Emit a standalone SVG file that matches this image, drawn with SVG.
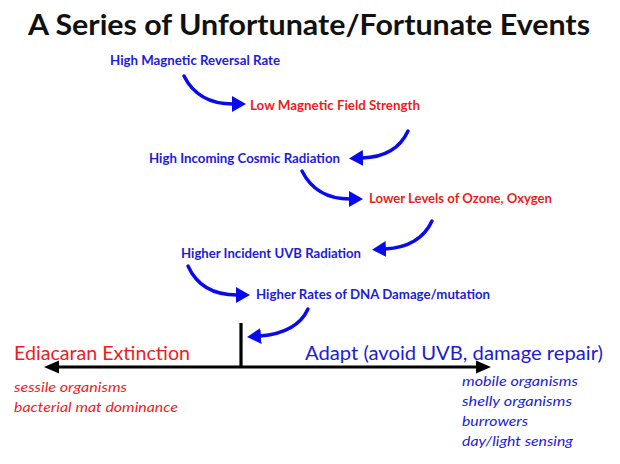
<svg xmlns="http://www.w3.org/2000/svg" width="620" height="464" viewBox="0 0 620 464">
<style>
text{font-family:Lato,"Open Sans","Liberation Sans",sans-serif}
.title{font-size:29px;font-weight:bold;fill:#111}
.lbl{font-size:12.8px;font-weight:bold}
.blue{fill:#1c1cd8}
.red{fill:#ee1c1c}
.big{font-size:18.5px}
.it{font-size:14.3px;font-style:italic}
.conn{fill:none;stroke:#0a0af0;stroke-width:3.5;stroke-linecap:round}
.axis{stroke:#000;stroke-width:3.2;fill:none}
</style>
<defs>
<marker id="ah" markerUnits="userSpaceOnUse" markerWidth="16" markerHeight="18" refX="1" refY="9" orient="auto">
<path d="M0,1 L14,9 L0,17 Z" fill="#0a0af0"/>
</marker>
<marker id="bh" markerUnits="userSpaceOnUse" markerWidth="16" markerHeight="16" refX="1" refY="8" orient="auto">
<path d="M0,1.5 L15,8 L0,14.5 Z" fill="#000"/>
</marker>
</defs>
<rect width="620" height="464" fill="#fff"/>
<g id="title"><text class="title" x="28" y="35" textLength="562" lengthAdjust="spacingAndGlyphs">A Series of Unfortunate/Fortunate Events</text></g>
<g id="n1"><text class="lbl blue" x="110" y="65" textLength="170" lengthAdjust="spacingAndGlyphs">High Magnetic Reversal Rate</text></g>
<g id="n2"><text class="lbl red" x="250" y="110" textLength="170" lengthAdjust="spacingAndGlyphs">Low Magnetic Field Strength</text></g>
<g id="n3"><text class="lbl blue" x="149" y="163" textLength="191" lengthAdjust="spacingAndGlyphs">High Incoming Cosmic Radiation</text></g>
<g id="n4"><text class="lbl red" x="369" y="203" textLength="183" lengthAdjust="spacingAndGlyphs">Lower Levels of Ozone, Oxygen</text></g>
<g id="n5"><text class="lbl blue" x="181" y="258" textLength="180" lengthAdjust="spacingAndGlyphs">Higher Incident UVB Radiation</text></g>
<g id="n6"><text class="lbl blue" x="256" y="299" textLength="234" lengthAdjust="spacingAndGlyphs">Higher Rates of DNA Damage/mutation</text></g>
<g id="extinction">
<text class="big red" x="14" y="360" textLength="176" lengthAdjust="spacingAndGlyphs">Ediacaran Extinction</text>
<text class="it red" x="14" y="392" textLength="113" lengthAdjust="spacingAndGlyphs">sessile organisms</text>
<text class="it red" x="14" y="412" textLength="164" lengthAdjust="spacingAndGlyphs">bacterial mat dominance</text>
</g>
<g id="adapt">
<text class="big blue" x="305" y="360" textLength="298" lengthAdjust="spacingAndGlyphs">Adapt (avoid UVB, damage repair)</text>
<text class="it blue" x="462" y="386" textLength="116" lengthAdjust="spacingAndGlyphs">mobile organisms</text>
<text class="it blue" x="462" y="406" textLength="110" lengthAdjust="spacingAndGlyphs">shelly organisms</text>
<text class="it blue" x="462" y="426" textLength="66" lengthAdjust="spacingAndGlyphs">burrowers</text>
<text class="it blue" x="462" y="446" textLength="111" lengthAdjust="spacingAndGlyphs">day/light sensing</text>
</g>
<g id="connectors">
<path class="conn" d="M184,76 Q198,104 233,104" marker-end="url(#ah)"/>
<path class="conn" d="M408,131 Q396,157 362,158" marker-end="url(#ah)"/>
<path class="conn" d="M302,171 Q316,199 350,199" marker-end="url(#ah)"/>
<path class="conn" d="M432,221 Q420,247 385,249" marker-end="url(#ah)"/>
<path class="conn" d="M188,266 Q201,295 237,295" marker-end="url(#ah)"/>
<path class="conn" d="M308,309 Q297,333 260,336" marker-end="url(#ah)"/>
<line class="axis" x1="241" y1="323" x2="241" y2="367"/>
<line class="axis" x1="150" y1="367" x2="58" y2="367" marker-end="url(#bh)"/>
<line class="axis" x1="150" y1="367" x2="477" y2="367" marker-end="url(#bh)"/>
</g>
</svg>
